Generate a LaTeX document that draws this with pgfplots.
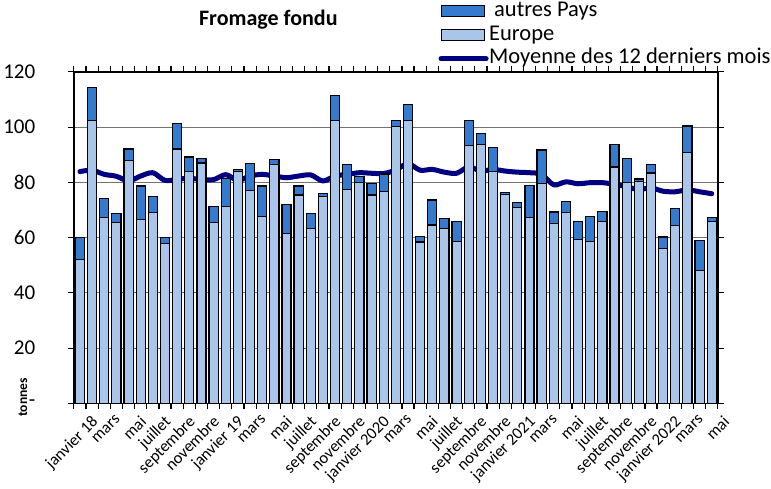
\documentclass[border=0pt]{standalone}
\usepackage{pgfplots}
\pgfplotsset{compat=1.18}
\usepackage{pgfplotstable}
\usepackage{fontspec}
\setmainfont{Carlito}

\definecolor{europe}{RGB}{169,198,234}
\definecolor{autres}{RGB}{52,122,206}
\definecolor{moy}{RGB}{0,0,128}

\pgfplotsset{
  boxlegend/.style={legend image code/.code={\draw[##1] (0pt,-5pt) rectangle (43pt,6pt);}},
  linelegend/.style={legend image code/.code={\draw[##1] (0pt,0pt) -- (45pt,0pt);}},
}

% mois, Europe, autres Pays, moyenne des 12 derniers mois
\pgfplotstableread{
x  eu     autres moy
1  52.0   8.0    83.9
2  102.5  11.9   84.4
3  67.4   6.7    82.9
4  65.5   3.3    82.2
5  88.0   4.1    80.5
6  66.7   12.0   82.3
7  69.0   6.0    83.5
8  58.0   2.1    80.7
9  92.1   9.2    81.1
10 83.9   5.3    81.5
11 87.0   1.6    81.0
12 65.6   5.7    81.0
13 71.4   9.9    82.8
14 83.9   0.9    80.7
15 77.1   9.8    82.3
16 67.6   11.1   82.9
17 86.5   1.9    82.3
18 61.6   10.5   81.7
19 75.4   3.3    82.3
20 63.2   5.4    82.7
21 75.0   1.1    80.5
22 102.5  8.9    82.3
23 77.3   9.1    82.9
24 80.0   2.0    83.5
25 75.4   4.3    83.3
26 76.6   6.4    83.2
27 100.1  2.2    84.5
28 102.5  5.6    86.8
29 58.4   2.1    84.4
30 64.6   9.0    84.7
31 63.4   3.6    83.7
32 58.7   7.2    83.3
33 93.3   9.0    85.6
34 93.6   4.2    84.1
35 84.0   8.5    84.7
36 75.5   0.7    84.1
37 70.9   1.8    83.7
38 67.4   11.6   83.5
39 79.5   12.2   82.9
40 65.0   4.3    79.1
41 69.0   4.1    80.2
42 59.2   6.6    79.5
43 58.7   8.9    79.9
44 65.7   3.8    79.9
45 85.6   8.0    79.3
46 80.0   8.7    78.4
47 80.2   1.0    77.4
48 83.4   3.1    78.0
49 56.0   4.2    76.8
50 64.5   6.0    76.6
51 90.9   9.5    77.3
52 48.0   11.0   76.6
53 65.8   1.6    75.9
}\data

\begin{document}
\begin{tikzpicture}
\begin{axis}[
    scale only axis,
    width=643pt, height=331pt,
    xmin=0.5, xmax=53.5,
    ymin=0, ymax=120,
    ybar stacked,
    bar width=0.75,
    ytick={0,20,...,120},
    yticklabels={-\hspace{9pt},20,40,60,80,100,120},
    ymajorgrids=true,
    grid style={gray!90!black, line width=1pt},
    xtick={0.5,1.5,...,53.5},
    xticklabels={},
    extra x ticks={1,3,...,53},
    extra x tick labels={janvier 18,mars,mai,juillet,septembre,novembre,janvier 19,mars,mai,juillet,septembre,novembre,janvier 2020,mars,mai,juillet,septembre,novembre,janvier 2021,mars,mai,juillet,septembre,novembre,janvier 2022,mars,mai},
    extra x tick style={major tick length=0pt,
        tick label style={rotate=45, anchor=north east, yshift=-12pt, xshift=3pt,
        font=\fontsize{16.5}{16.5}\selectfont}},
    tick align=outside,
    major tick length=6pt,
    tick style={black, line width=1.2pt},
    axis line style={line width=1.5pt},
    yticklabel style={font=\fontsize{21}{21}\selectfont, xshift=-29pt},
    ylabel={tonnes},
    ylabel style={at={(axis description cs:-0.079,0.018)}, anchor=center,
        font=\bfseries\fontsize{13.5}{13.5}\selectfont},
    title={Fromage fondu},
    title style={at={(axis description cs:0.302,1.139)}, anchor=center,
        font=\bfseries\fontsize{22}{22}\selectfont},
    legend style={at={(axis description cs:0.566,1.2175)}, anchor=north west,
        draw=none, fill=none, font=\fontsize{22.5}{22.5}\selectfont,
        inner sep=0pt, row sep=0pt,
        nodes={inner xsep=0.5pt, inner ysep=1.25pt, text height=15.5pt, text depth=5.5pt}},
    legend cell align=left,
]
\addplot[fill=europe, draw=black, line width=1.2pt, forget plot] table[x=x, y=eu] {\data};
\addplot[fill=autres, draw=black, line width=1.2pt, forget plot] table[x=x, y=autres] {\data};
\addplot[sharp plot, smooth, stack plots=false, color=moy, line width=5pt,
    line join=round, line cap=round, forget plot] table[x=x, y=moy] {\data};

\addlegendimage{boxlegend, fill=autres, draw=black, line width=1pt}
\addlegendentry{\ autres Pays}
\addlegendimage{boxlegend, fill=europe, draw=black, line width=1pt}
\addlegendentry{Europe}
\addlegendimage{linelegend, color=moy, line width=5pt, line cap=round}
\addlegendentry{Moyenne des 12 derniers mois}
\end{axis}
\end{tikzpicture}
\end{document}
